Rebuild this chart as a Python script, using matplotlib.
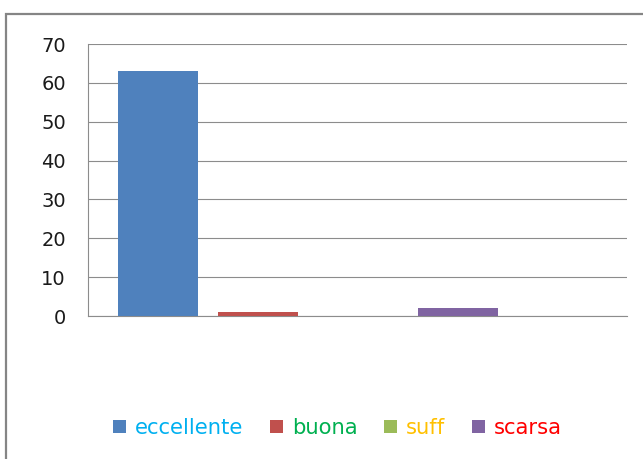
import matplotlib
matplotlib.use("Agg")
import matplotlib.pyplot as plt
from matplotlib.patches import Patch, Rectangle

# data
series = ["eccellente", "buona", "suff", "scarsa"]
values = [63, 1, 0, 2]
bar_colors = ["#4F81BD", "#C0504D", "#9BBB59", "#8064A2"]
label_colors = ["#00B0F0", "#00B050", "#FFC000", "#FF0000"]
yticks = [0, 10, 20, 30, 40, 50, 60, 70]

plt.rcParams["font.family"] = ["DejaVu Sans"]

fig = plt.figure(figsize=(6.43, 4.59), dpi=100)
ax = fig.add_axes([88 / 643, 1 - 316 / 459, (627 - 88) / 643, (316 - 44) / 459])

# one category, five slots (last one empty)
for i, (v, c) in enumerate(zip(values, bar_colors)):
    ax.bar(i, v, width=0.8, color=c, zorder=3)

ax.set_xlim(-0.7, 4.69)
ax.set_ylim(0, 70)
ax.set_yticks(yticks)
ax.set_xticks([])
ax.grid(axis="y", color="#8C8C8C", linewidth=0.8, zorder=0)
ax.tick_params(axis="y", length=0, pad=16, labelsize=14, labelcolor="#1a1a1a")
for s in ["top", "right"]:
    ax.spines[s].set_visible(False)
for s in ["left", "bottom"]:
    ax.spines[s].set_color("#8C8C8C")
    ax.spines[s].set_linewidth(0.8)

handles = [Patch(facecolor=c, edgecolor="none") for c in bar_colors]
leg = fig.legend(handles, series, loc="center", bbox_to_anchor=(0.525, 0.0675),
                 ncol=4, frameon=False, fontsize=15.2, handlelength=0.6,
                 handleheight=0.6, handletextpad=0.45, columnspacing=1.25)
for t, c in zip(leg.get_texts(), label_colors):
    t.set_color(c)

# outer chart border (cut off at right and bottom)
fig.patches.append(Rectangle((6 / 643, -0.1), 1.2, 1 - 14 / 459 + 0.1,
                             transform=fig.transFigure, fill=False,
                             edgecolor="#858585", linewidth=1.6))

fig.savefig("out.png", dpi=100)
